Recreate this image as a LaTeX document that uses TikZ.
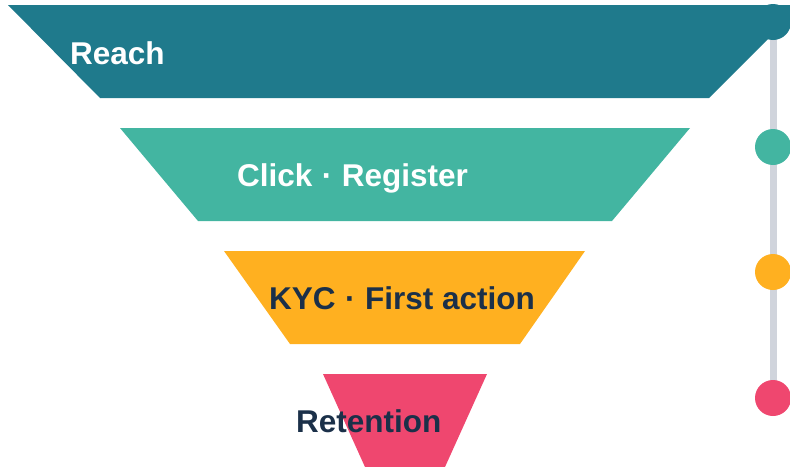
\documentclass[tikz,border=0pt]{standalone}
\usepackage{fontspec}
\setmainfont{Liberation Sans}
\definecolor{cReach}{HTML}{1F7A8C}
\definecolor{cClick}{HTML}{43B5A1}
\definecolor{cKyc}{HTML}{FFB020}
\definecolor{cRet}{HTML}{EF476F}
\definecolor{cDark}{HTML}{1B3049}
\definecolor{cLine}{HTML}{D0D4DC}
\newcommand{\sepdot}{\hspace{0.3em}·\hspace{0.3em}}
\begin{document}
\begin{tikzpicture}[x=1pt,y=-1pt,
  lbl/.style={anchor=base west,inner sep=0pt,font=\fontsize{31.5}{31.5}\selectfont\bfseries},
  dot/.style={circle,inner sep=0pt,minimum size=36pt},
  rail/.style={draw=cLine,line width=7pt}]
\useasboundingbox (0,0) rectangle (790,466);
% funnel stages
\fill[cReach] (8,5) -- (802,5) -- (709,98) -- (100,98) -- cycle;
\fill[cClick] (120,128) -- (690,128) -- (612,221) -- (198,221) -- cycle;
\fill[cKyc] (224,251) -- (585,251) -- (520,344) -- (290,344) -- cycle;
\fill[cRet] (323,374) -- (487,374) -- (445,467) -- (365,467) -- cycle;
% labels
\node[lbl,text=white] (reach) at (70,64) {Reach};
\node[lbl,text=white] (click) at (237,186) {Click\sepdot Register};
\node[lbl,text=cDark] (kyc) at (269,309) {KYC\sepdot First action};
\node[lbl,text=cDark] (ret) at (296,432) {Retention};
% rail
\coordinate (p1) at (773,22);
\coordinate (p2) at (773,147);
\coordinate (p3) at (773,272);
\coordinate (p4) at (773,398);
\draw[rail] (p1) -- (p4);
\node[dot,fill=cReach] (d1) at (p1) {};
\node[dot,fill=cClick] (d2) at (p2) {};
\node[dot,fill=cKyc] (d3) at (p3) {};
\node[dot,fill=cRet] (d4) at (p4) {};
\end{tikzpicture}
\end{document}
